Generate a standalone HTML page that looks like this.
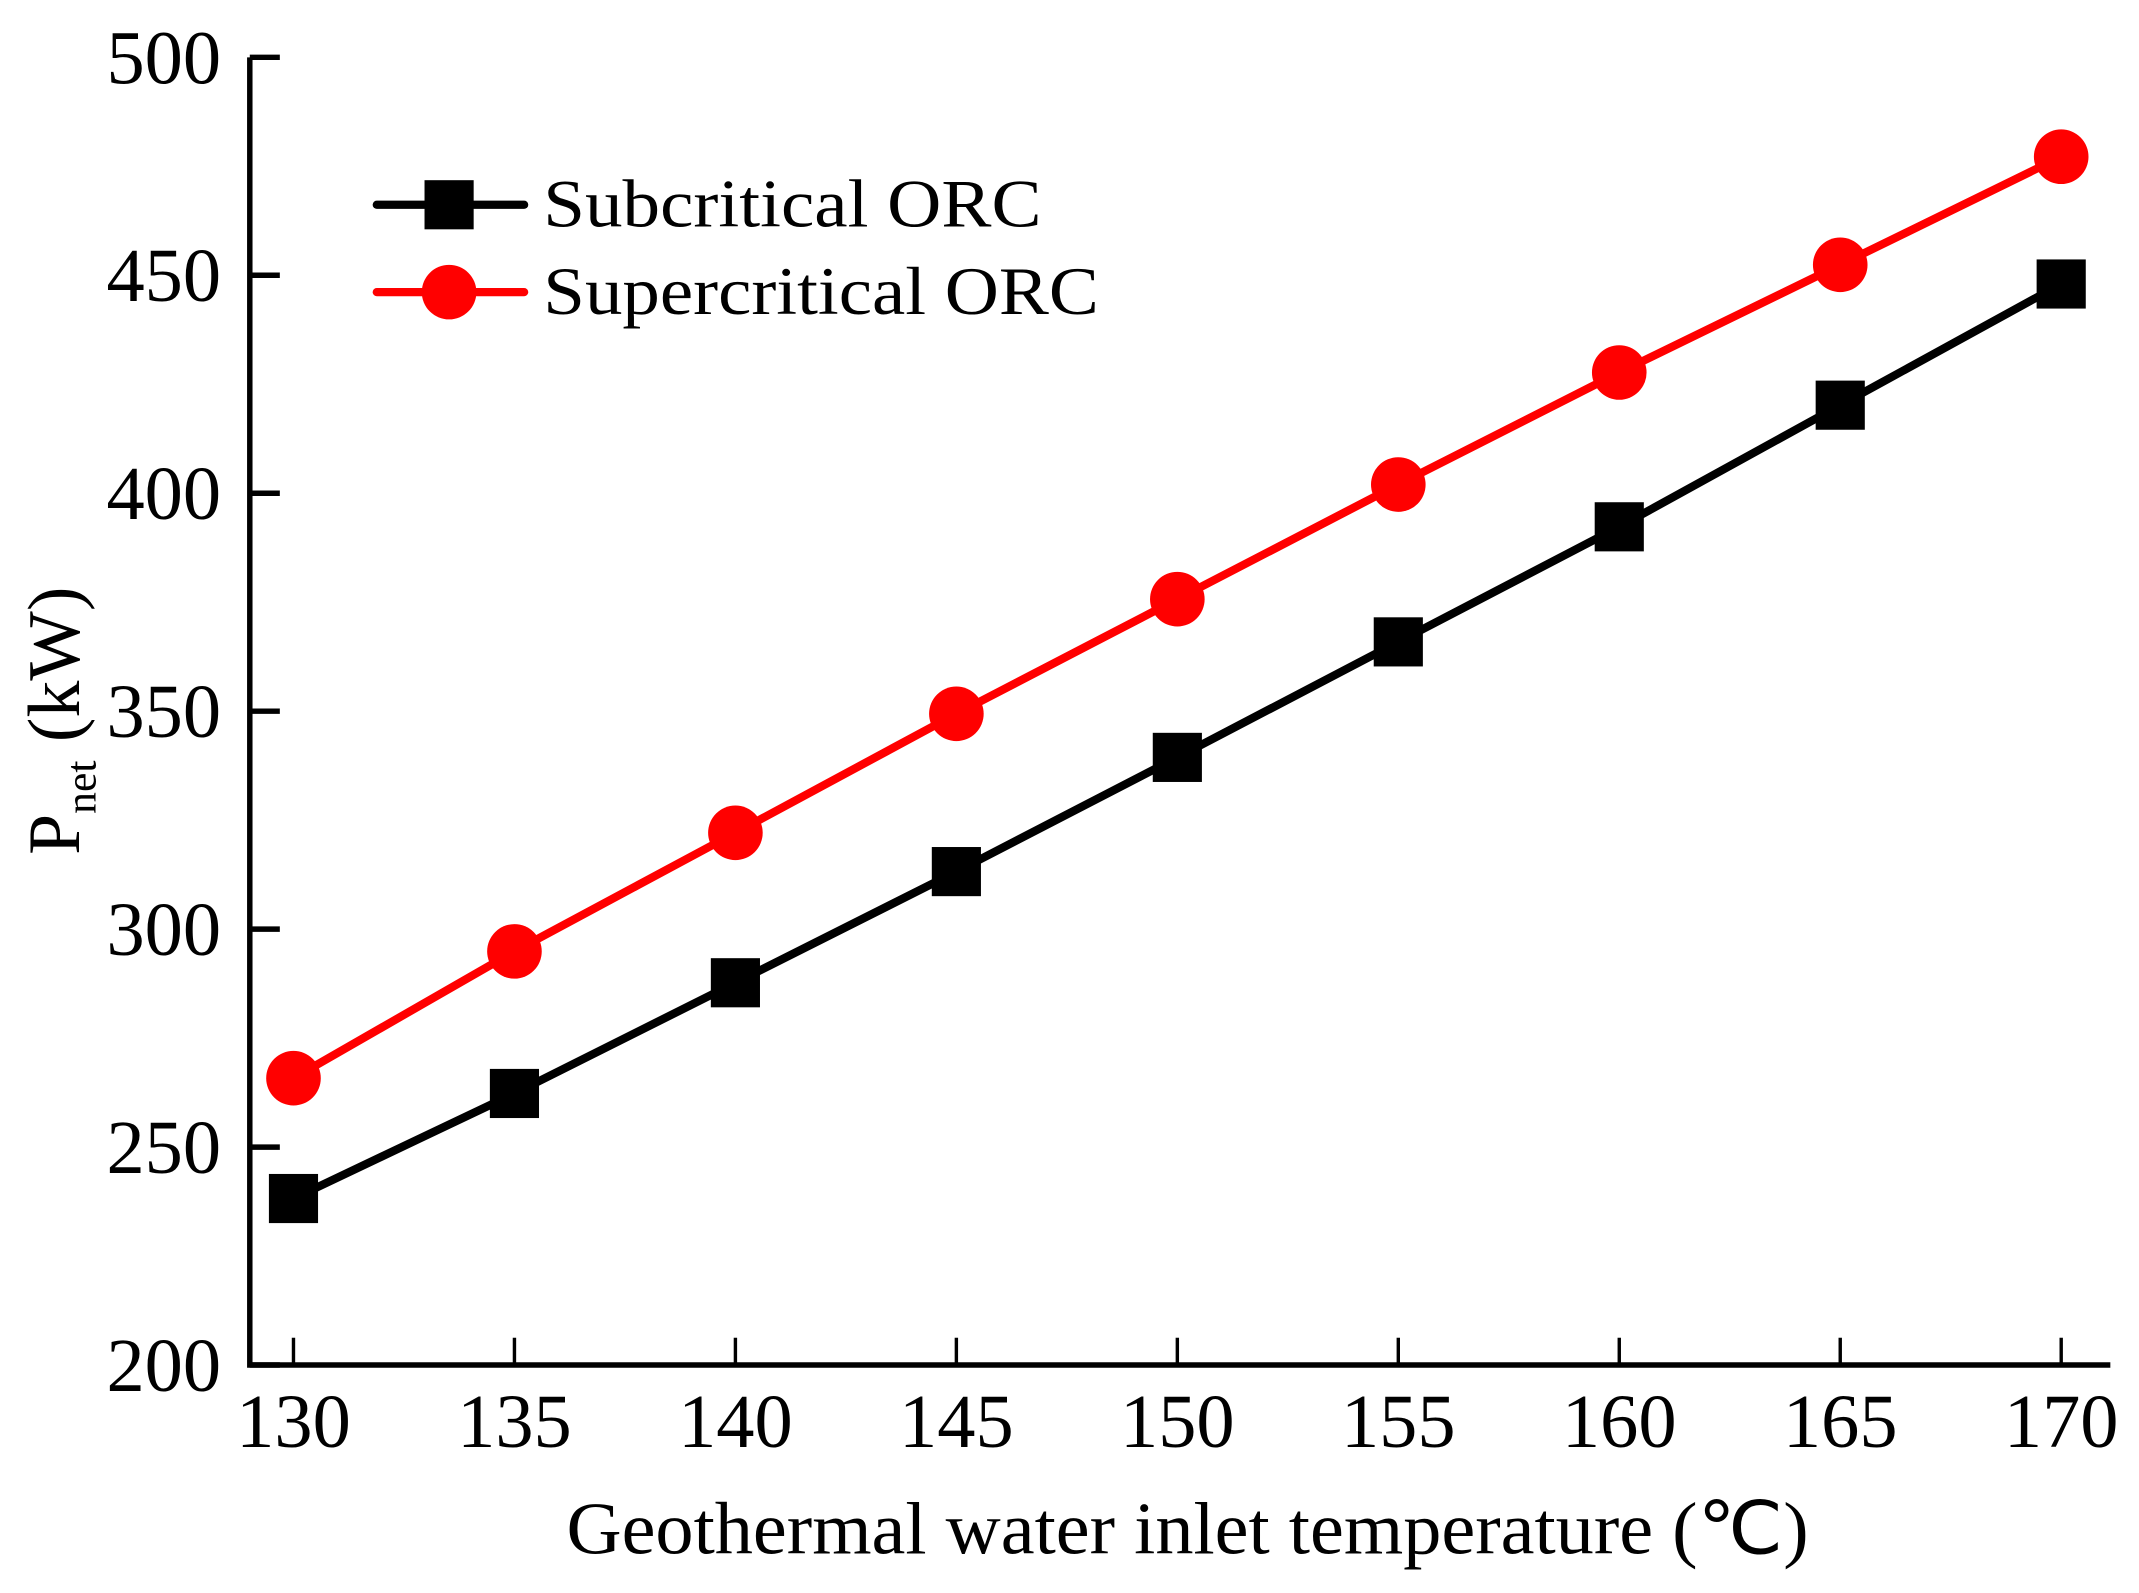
<!DOCTYPE html>
<html><head><meta charset="utf-8"><style>
html,body{margin:0;padding:0;background:#fff}
svg{display:block;font-family:"Liberation Serif",serif}
</style></head><body>
<svg id="chart" width="2139" height="1593" viewBox="0 0 1567 1167" preserveAspectRatio="none" xmlns="http://www.w3.org/2000/svg">
<g id="axes"></g><g id="series"></g>
<g>
 <line x1="276" y1="150" x2="384" y2="150" stroke="#000" stroke-width="6" stroke-linecap="round"/>
 <rect x="311" y="132" width="36" height="36" fill="#000"/>
 <text x="398" y="166" font-size="50" textLength="365" lengthAdjust="spacingAndGlyphs">Subcritical ORC</text>
 <line x1="276" y1="214" x2="384" y2="214" stroke="#f00" stroke-width="6" stroke-linecap="round"/>
 <circle cx="329" cy="214" r="20" fill="#f00"/>
 <text x="398" y="230" font-size="50" textLength="407" lengthAdjust="spacingAndGlyphs">Supercritical ORC</text>
</g>
<text x="415" y="1138" font-size="54" textLength="910" lengthAdjust="spacingAndGlyphs">Geothermal water inlet temperature (℃)</text>
<g transform="translate(58,528) rotate(-90)">
 <text x="0" y="0" font-size="54" text-anchor="middle">P<tspan font-size="32" dy="12">net</tspan><tspan dy="-12"> (kW)</tspan></text>
</g>
</svg>
<script>
const categories=[130,135,140,145,150,155,160,165,170];
const subcritical=[238.2,262.3,287.7,313.2,339.4,365.9,392.3,420.2,448.0];
const supercritical=[265.8,294.9,322.1,349.4,375.7,402.0,427.7,452.4,477.2];
const yTicks=[200,250,300,350,400,450,500];
const NS="http://www.w3.org/2000/svg";
const X=v=>215+(v-130)*(1510-215)/40;
const Y=v=>1000-(v-200)*(1000-42)/300;
function mk(tag,attrs,parent){const e=document.createElementNS(NS,tag);for(const k in attrs)e.setAttribute(k,attrs[k]);parent.appendChild(e);return e;}
const ax=document.getElementById('axes');
let l=mk('path',{d:'M183,42 V1000 H1546',fill:'none',stroke:'#000','stroke-width':4},ax);


yTicks.forEach(t=>{
 const tk=mk('line',{x1:183,x2:205,y1:Y(t),y2:Y(t),stroke:'#000','stroke-width':4},ax);
 
 
 const tx=mk('text',{x:162,y:Y(t)+19,'font-size':56,'text-anchor':'end'},ax);
 tx.textContent=t;
 
 
});
categories.forEach(c=>{
 const tk=mk('line',{x1:X(c),x2:X(c),y1:1000,y2:980,stroke:'#000','stroke-width':2.5},ax);
 
 
 const tx=mk('text',{x:X(c),y:1060,'font-size':56,'text-anchor':'middle'},ax);
 tx.textContent=c;
 
 
});
const sg=document.getElementById('series');
function series(vals,color,shape,name){
 const g=mk('g',{},sg);
 
 
 const pl=mk('polyline',{points:vals.map((v,i)=>X(categories[i])+','+Y(v)).join(' '),fill:'none',stroke:color,'stroke-width':6},g);
 
 
 vals.forEach((v,i)=>{
  let m;
  if(shape==='sq') m=mk('rect',{x:X(categories[i])-18,y:Y(v)-18,width:36,height:36,fill:color},g);
  else m=mk('circle',{cx:X(categories[i]),cy:Y(v),r:20,fill:color},g);
  
  
 });
}
series(subcritical,'#000','sq','subcritical-series');
series(supercritical,'#f00','ci','supercritical-series');
</script>
</body></html>
